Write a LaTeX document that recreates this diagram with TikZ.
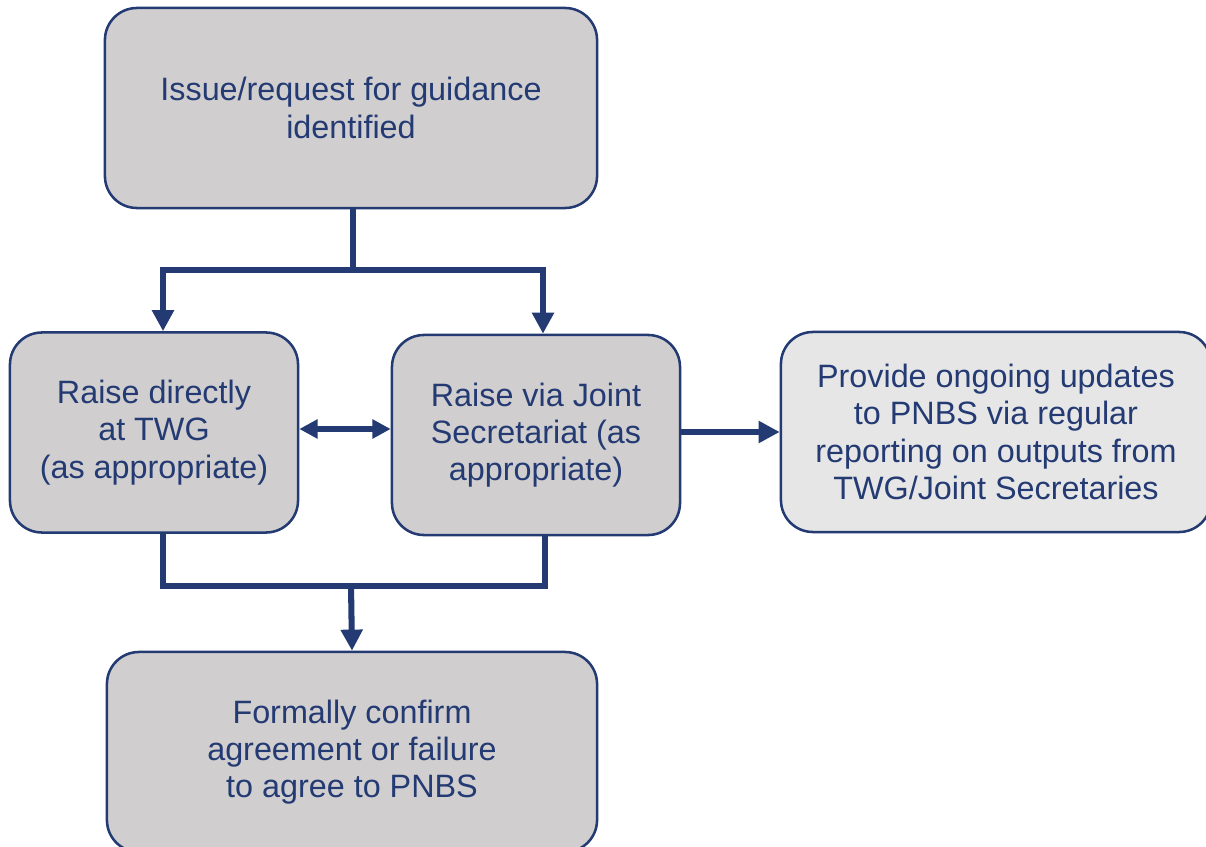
\documentclass[tikz,border=0pt]{standalone}
\usepackage{fontspec}
\setmainfont{Liberation Sans}
\usepackage{xcolor}
\usetikzlibrary{arrows.meta,calc}
\definecolor{navy}{HTML}{243A73}
\definecolor{boxgray}{HTML}{D0CECF}
\definecolor{lightgray}{HTML}{E6E6E6}
\tikzset{
  box/.style={draw=navy,line width=1.8pt,rounded corners=0.8cm,fill=boxgray,
              text=navy,align=center,font=\fontsize{23}{26.5}\selectfont,
              minimum height=5cm,inner sep=0pt},
  upd/.style={box,fill=lightgray},
  ln/.style={draw=navy,line width=4.3pt},
  ar/.style={ln,-{Triangle[length=15pt,width=15pt]}},
  arr/.style={ln,{Triangle[length=13pt,width=13pt]}-{Triangle[length=13pt,width=13pt]}}
}
\begin{document}
\begin{tikzpicture}[x=0.025cm,y=-0.025cm]
  \useasboundingbox (0,0) rectangle (1206,847);
  \node[box,minimum width=12.3cm] (issue) at (351,108) {Issue/request for guidance\\identified};
  \node[box,minimum width=7.2cm] (direct) at (154,432.5) {Raise directly\\at TWG\\(as appropriate)};
  \node[box,minimum width=7.2cm] (joint) at (536,435) {Raise via Joint\\Secretariat (as\\appropriate)};
  \node[upd,minimum width=10.75cm] (updates) at (996,432) {Provide ongoing updates\\to PNBS via regular\\reporting on outputs from\\TWG/Joint Secretaries};
  \node[box,minimum width=12.25cm] (confirm) at (352,752) {Formally confirm\\agreement or failure\\to agree to PNBS};
  % split above the two routes
  \coordinate (split) at (353,270);
  \draw[ln] ($(issue.south)+(2,0)$) -- (split);
  \draw[ar] (split) -| ($(direct.north)+(9,0)$);
  \draw[ar] (split) -| ($(joint.north)+(7,0)$);
  \draw[arr] (direct.east |- 0,429) -- (joint.west |- 0,429);
  \draw[ar] (joint.east |- 0,432) -- (updates.west |- 0,432);
  % join below the two routes
  \coordinate (join) at (351,585);
  \draw[ln] ($(direct.south)+(9,0)$) |- ($(joint.south)+(9,50)$) -- ($(joint.south)+(9,0)$);
  \draw[ar] (join) -- (confirm.north);
\end{tikzpicture}
\end{document}
